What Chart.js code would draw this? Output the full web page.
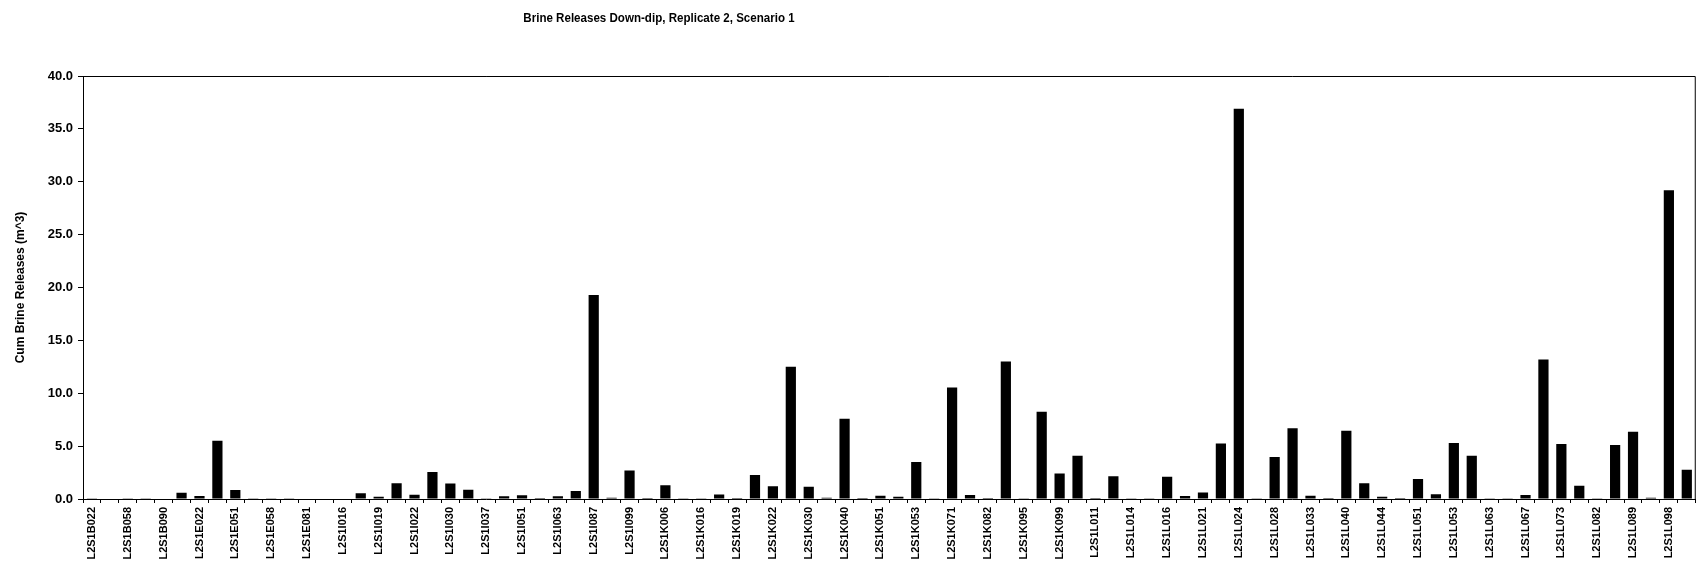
<!DOCTYPE html>
<html>
<head>
<meta charset="utf-8">
<script src="https://cdn.jsdelivr.net/npm/chart.js@4"></script>
<style>
  html, body { margin: 0; padding: 0; background: #fff; }
  #wrap { position: relative; width: 1704px; height: 569px; }
  #title { position: absolute; left: 659px; top: 10px; transform: translateX(-50%) scaleX(0.89);
           font: bold 13px "Liberation Sans", Arial, sans-serif; color: #000; white-space: nowrap; }
  canvas { display: block; }
</style>
</head>
<body>
<div id="wrap">
  <canvas id="c" width="1704" height="569"></canvas>
  <div id="title">Brine Releases Down-dip, Replicate 2, Scenario 1</div>
</div>
<script>
// Visible category labels (every other category is labelled in the reference)
const shownLabels = [
  "L2S1B022","L2S1B058","L2S1B090","L2S1E022","L2S1E051","L2S1E058","L2S1E081","L2S1I016","L2S1I019","L2S1I022",
  "L2S1I030","L2S1I037","L2S1I051","L2S1I063","L2S1I087","L2S1I099","L2S1K006","L2S1K016","L2S1K019","L2S1K022",
  "L2S1K030","L2S1K040","L2S1K051","L2S1K053","L2S1K071","L2S1K082","L2S1K095","L2S1K099","L2S1L011","L2S1L014",
  "L2S1L016","L2S1L021","L2S1L024","L2S1L028","L2S1L033","L2S1L040","L2S1L044","L2S1L051","L2S1L053","L2S1L063",
  "L2S1L067","L2S1L073","L2S1L082","L2S1L089","L2S1L098"
];

// Cumulative brine releases (m^3), one per category
const releases = [
  0.08, 0.05, 0.03, 0.02, 0.04, 0.6, 0.28, 5.5, 0.85, 0.03,
  0.02, 0.03, 0.05, 0.04, 0.05, 0.54, 0.22, 1.5, 0.41, 2.55,
  1.47, 0.87, 0.02, 0.25, 0.35, 0.1, 0.25, 0.75, 19.3, 0.12,
  2.7, 0.1, 1.3, 0.08, 0.02, 0.42, 0.1, 2.27, 1.2, 12.5,
  1.17, 0.12, 7.6, 0.1, 0.3, 0.22, 3.5, 0.08, 10.55, 0.38,
  0.1, 13.0, 0.02, 8.25, 2.4, 4.1, 0.1, 2.14, 0.02, 0.02,
  2.1, 0.28, 0.62, 5.26, 36.9, 0.02, 3.97, 6.7, 0.3, 0.1,
  6.46, 1.5, 0.22, 0.1, 1.9, 0.44, 5.3, 4.1, 0.02, 0.02,
  0.38, 13.2, 5.2, 1.25, 0.02, 5.1, 6.36, 0.12, 29.2, 2.77
];

const yTicks = { min: 0, max: 40, step: 5 };
const yTitle = "Cum Brine Releases (m^3)";

// categories: labelled ones interleaved with unlabelled ones
const categories = releases.map((v, i) => (i % 2 === 0 ? shownLabels[i / 2] : ""));

const frame = {
  id: 'frame',
  afterDraw(chart) {
    const { ctx, chartArea: a } = chart;
    ctx.save();
    ctx.strokeStyle = '#000';
    ctx.lineWidth = 1;
    ctx.beginPath();
    ctx.moveTo(a.left, a.top + 0.5);
    ctx.lineTo(a.right - 0.5, a.top + 0.5);
    ctx.lineTo(a.right - 0.5, a.bottom);
    ctx.stroke();
    ctx.restore();
  }
};

const FONT = '"Liberation Sans", Arial, sans-serif';

new Chart(document.getElementById('c'), {
  type: 'bar',
  data: {
    labels: categories,
    datasets: [{
      data: releases,
      backgroundColor: '#000',
      borderWidth: 0,
      barPercentage: 0.6,
      categoryPercentage: 0.95
    }]
  },
  options: {
    responsive: false,
    animation: false,
    layout: { padding: { top: 76, right: 1, left: 13, bottom: 0 } },
    plugins: { legend: { display: false }, tooltip: { enabled: false }, title: { display: false } },
    scales: {
      x: {
        grid: { drawOnChartArea: false, drawTicks: true, tickLength: 4, color: '#000', offset: true },
        border: { color: '#000', width: 1 },
        ticks: {
          autoSkip: false, minRotation: 90, maxRotation: 90, padding: 4,
          color: '#000', font: { family: FONT, size: 11, weight: 'bold' }
        },
        afterFit(s) { s.height = 70; }
      },
      y: {
        min: yTicks.min, max: yTicks.max,
        grid: { drawOnChartArea: false, drawTicks: true, tickLength: 5, color: '#000' },
        border: { color: '#000', width: 1 },
        ticks: {
          stepSize: yTicks.step, padding: 5, color: '#000',
          font: { family: FONT, size: 13, weight: 'bold' },
          callback: v => Number(v).toFixed(1)
        },
        title: {
          display: true, text: yTitle, color: '#000', padding: { top: 0, bottom: 4 },
          font: { family: FONT, size: 12, weight: 'bold' }
        },
        afterFit(s) { s.width = 70; }
      }
    }
  },
  plugins: [frame]
});
</script>
</body>
</html>
